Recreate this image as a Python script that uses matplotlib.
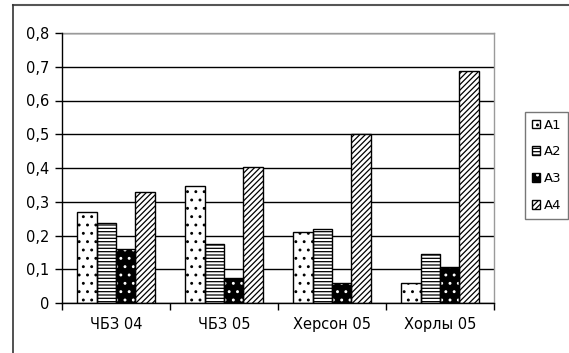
import matplotlib
matplotlib.use("Agg")
import matplotlib.pyplot as plt
import numpy as np
from matplotlib.patches import Patch
from matplotlib.legend_handler import HandlerTuple
from matplotlib.lines import Line2D

plt.rcParams['font.family'] = ['DejaVu Sans']
plt.rcParams['hatch.linewidth'] = 0.9

categories = ["ЧБЗ 04", "ЧБЗ 05", "Херсон 05", "Хорлы 05"]
series_names = ["A1", "A2", "A3", "A4"]
a1 = [0.270, 0.347, 0.211, 0.058]
a2 = [0.238, 0.174, 0.218, 0.145]
a3 = [0.159, 0.073, 0.058, 0.107]
a4 = [0.330, 0.403, 0.501, 0.687]
y_ticks = [0, 0.1, 0.2, 0.3, 0.4, 0.5, 0.6, 0.7, 0.8]
y_tick_labels = ["0", "0,1", "0,2", "0,3", "0,4", "0,5", "0,6", "0,7", "0,8"]

fig = plt.figure(figsize=(5.69, 3.53), dpi=100)
ax = fig.add_axes([62/569, 50/353, (494-62)/569, (303-33)/353])

x = np.arange(len(categories))
w = 0.18
offs = [(j - 1.5) * w for j in range(4)]

# series styles: (facecolor, hatch colour, hatch)
styles = [("white", "black", ".."),
          ("white", "black", "-----"),
          ("black", "white", ".."),
          ("white", "black", "//////")]

legend_handles = []
for vals, off, (fc, hc, hatch) in zip([a1, a2, a3, a4], offs, styles):
    ax.bar(x + off, vals, w, color=fc, edgecolor=hc, hatch=hatch, linewidth=0, zorder=3)
    ax.bar(x + off, vals, w, fill=False, edgecolor="black", linewidth=1.0, zorder=4)
    legend_handles.append((Patch(facecolor=fc, edgecolor=hc, hatch=hatch, linewidth=0),
                           Patch(fill=False, edgecolor="black", linewidth=1.0)))

ax.set_xlim(-0.5, 3.5)
ax.set_ylim(0, 0.8)
ax.set_yticks(y_ticks)
ax.set_yticklabels(y_tick_labels, fontsize=10.5)
ax.yaxis.grid(True, color="black", linewidth=1.0, zorder=0)
ax.set_axisbelow(True)

ax.set_xticks(x)
ax.set_xticklabels(categories, fontsize=10.5)
ax.tick_params(axis="x", which="major", length=0, pad=10)
ax.set_xticks(np.arange(-0.5, 4.0, 1.0), minor=True)
ax.tick_params(axis="x", which="minor", length=5, width=1, direction="out", color="black")
ax.tick_params(axis="y", length=5, width=1, direction="out", color="black", pad=4)

for s in ["top", "right"]:
    ax.spines[s].set_color("#9a9a9a")
    ax.spines[s].set_linewidth(1.0)
for s in ["left", "bottom"]:
    ax.spines[s].set_color("black")
    ax.spines[s].set_linewidth(1.0)
    ax.spines[s].set_zorder(5)

leg = fig.legend(legend_handles, series_names,
                 handler_map={tuple: HandlerTuple(ndivide=1, pad=0)},
                 loc="upper left", bbox_to_anchor=(525/569, 1 - 112/353),
                 fontsize=9.5, frameon=True, fancybox=False,
                 handlelength=0.65, handleheight=0.65, handletextpad=0.3,
                 labelspacing=1.05, borderpad=0.5, borderaxespad=0)
leg.get_frame().set_edgecolor("#555555")
leg.get_frame().set_linewidth(1.0)

# outer chart frame
fig.add_artist(Line2D([13/569, 1.0], [1 - 5/353, 1 - 5/353], color="#555555", linewidth=1.5,
                      transform=fig.transFigure))
fig.add_artist(Line2D([13/569, 13/569], [0, 1 - 5/353], color="#333333", linewidth=1.2,
                      transform=fig.transFigure))

fig.savefig("out.png", dpi=100)
